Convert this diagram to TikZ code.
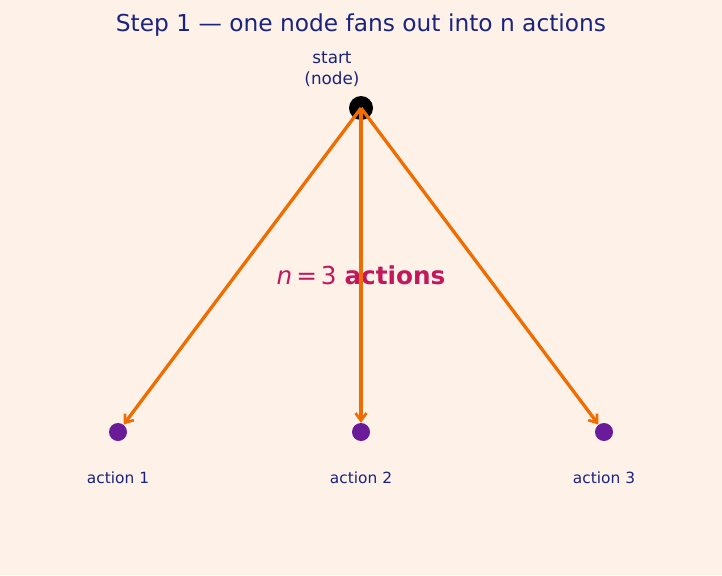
\documentclass[tikz,border=0pt]{standalone}
\usepackage{fontspec}
\setmainfont{DejaVu Sans}
\usetikzlibrary{arrows.meta}
\definecolor{bg}{HTML}{FEF2E8}
\definecolor{navy}{HTML}{1A237E}
\definecolor{orng}{HTML}{EF6C00}
\definecolor{purp}{HTML}{6A1B9A}
\definecolor{crim}{HTML}{C2185B}
\begin{document}
\begin{tikzpicture}[x=1pt,y=-1pt,
  actdot/.style={circle,fill=purp,inner sep=0pt,minimum size=18pt},
  startdot/.style={circle,fill=black,inner sep=0pt,minimum size=24pt},
  lbl/.style={text=navy,font=\fontsize{15.4}{18}\selectfont,align=center},
  fan/.style={draw=orng,line width=3.3pt,-{Straight Barb[length=7.5pt,width=11pt,line width=2.7pt]}}]
\fill[bg] (0,0) rectangle (722,575);
\useasboundingbox (0,0) rectangle (722,575);
\node[text=navy,font=\fontsize{23.3}{26}\selectfont] (title) at (361,25) {Step 1 — one node fans out into n actions};
\node[lbl,font=\fontsize{16.8}{20.5}\selectfont] (slabel) at (332,69) {start\\(node)};
\node[text=crim,font=\fontsize{24.7}{28}\selectfont] (nlabel) at (361,275) {\textit{n}\hspace{4pt}=\hspace{4pt}3 \textbf{actions}};
\node[startdot] (s) at (361,108) {};
\node[actdot] (a1) at (118,432) {};
\node[actdot] (a2) at (361,432) {};
\node[actdot] (a3) at (604,432) {};
\draw[fan] (s.center) -- (a1);
\draw[fan] (s.center) -- (a2);
\draw[fan] (s.center) -- (a3);
\node[lbl] (l1) at (118,478) {action 1};
\node[lbl] (l2) at (361,478) {action 2};
\node[lbl] (l3) at (604,478) {action 3};
\end{tikzpicture}
\end{document}
